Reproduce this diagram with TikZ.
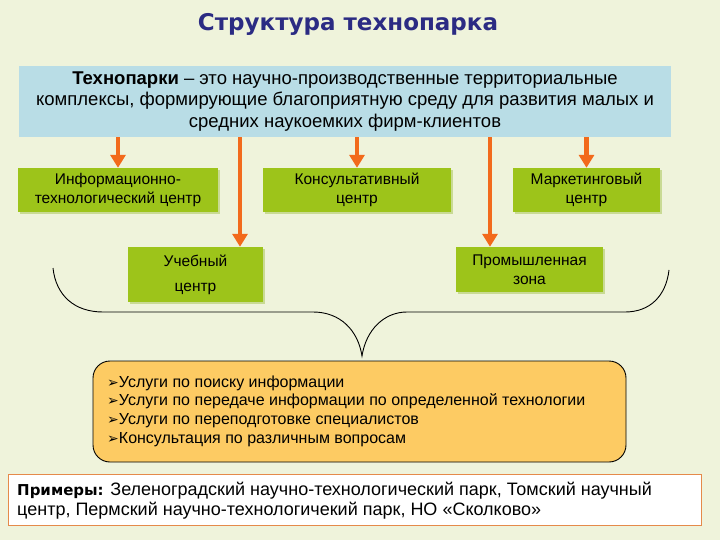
\documentclass[tikz,border=0pt]{standalone}
\usepackage{fontspec}
\setmainfont{Liberation Sans}
\newfontfamily\dejavu{DejaVu Sans}
\usetikzlibrary{arrows.meta,calc}
\definecolor{bgc}{HTML}{EFF3DB}
\definecolor{topc}{HTML}{B9DDE6}
\definecolor{greenc}{HTML}{9DC41A}
\definecolor{greensh}{HTML}{C9DA94}
\definecolor{orangea}{HTML}{F26A1B}
\definecolor{servc}{HTML}{FDCB63}
\definecolor{titlec}{HTML}{2B2B83}
\definecolor{exborder}{HTML}{E58A4A}
\tikzset{
  gbox/.style={fill=greenc, draw=none, align=center, inner sep=0pt,
     font=\fontsize{15.5}{18.5}\selectfont},
  arr/.style={draw=orangea, line width=4.5pt,
     -{Triangle[width=15pt,length=13pt]}},
  gshadow/.style={fill=greensh},
}
\newcommand{\bul}{{\dejavu\fontsize{14}{18.7}\selectfont ➢}}
\begin{document}
\begin{tikzpicture}[x=1pt,y=-1pt]
\fill[bgc] (0,0) rectangle (720,540);
\useasboundingbox (0,0) rectangle (720,540);

\node[font=\dejavu\bfseries\fontsize{23}{26}\selectfont, text=titlec] (title) at (348,24) {Структура технопарка};

\node[fill=topc, minimum width=652pt, minimum height=71pt, inner sep=0pt, align=center,
  font=\fontsize{18.5}{21.5}\selectfont] (top) at (345,101.5)
  {\textbf{Технопарки} -- это научно-производственные территориальные\\
   комплексы, формирующие благоприятную среду для развития малых и\\
   средних наукоемких фирм-клиентов};

% green boxes with faint shadow
\foreach \cx/\cy/\w/\h in {118/190/200/44, 357/190/188/44, 586.5/190/147/44, 195.5/274.5/135/55, 529.5/269.5/147/45}{
  \fill[gshadow] (\cx-\w/2+2,\cy-\h/2+2) rectangle (\cx+\w/2+2,\cy+\h/2+2);
}
\node[gbox, minimum width=200pt, minimum height=44pt] (info) at (118,190)
  {Информационно-\\технологический центр};
\node[gbox, minimum width=188pt, minimum height=44pt] (cons) at (357,190)
  {Консультативный\\центр};
\node[gbox, minimum width=147pt, minimum height=44pt] (mark) at (586.5,190)
  {Маркетинговый\\центр};
\node[gbox, minimum width=135pt, minimum height=55pt, font=\fontsize{15.5}{25}\selectfont] (ucheb) at (195.5,274.5)
  {Учебный\\центр};
\node[gbox, minimum width=147pt, minimum height=45pt] (prom) at (529.5,269.5)
  {Промышленная\\зона};

\coordinate (u) at ([xshift=44.5pt]ucheb.north);
\coordinate (p) at ([xshift=-39.5pt]prom.north);
\draw[arr] (top.south -| info.north) -- (info.north);
\draw[arr] (top.south -| u) -- (u);
\draw[arr] (top.south -| cons.north) -- (cons.north);
\draw[arr] (top.south -| p) -- (p);
\draw[arr] (top.south -| mark.north) -- (mark.north);

% brace
\draw[black, line width=0.9pt]
  (53,268) .. controls (56,296) and (75,312) .. (103,312) -- (313,312)
  .. controls (340,312) and (358,330) .. (362,356)
  .. controls (366,330) and (384,312) .. (407,312) -- (625,312)
  .. controls (650,312) and (666,296) .. (669,270);

\node[fill=servc, draw=black, line width=0.9pt, rounded corners=17pt,
  minimum width=533pt, minimum height=101pt] (serv) at (359.5,411.5) {};
\node[anchor=north west, align=left, inner sep=0pt, font=\fontsize{16}{18.7}\selectfont] (servtext) at (107,375.5)
  {\bul Услуги по поиску информации\\
   \bul Услуги по передаче информации по определенной технологии\\
   \bul Услуги по переподготовке специалистов\\
   \bul Консультация по различным вопросам};

\node[fill=white, draw=exborder, line width=0.9pt, minimum width=693pt, minimum height=51pt] (ex) at (354.5,499.5) {};
\node[anchor=north west, align=left, inner sep=0pt, font=\fontsize{18}{20.5}\selectfont] (extext) at (17,481.5)
  {{\dejavu\bfseries\fontsize{15}{20.5}\selectfont Примеры:} Зеленоградский научно-технологический парк, Томский научный\\
   центр, Пермский научно-технологичекий парк, НО «Сколково»};
\end{tikzpicture}
\end{document}
